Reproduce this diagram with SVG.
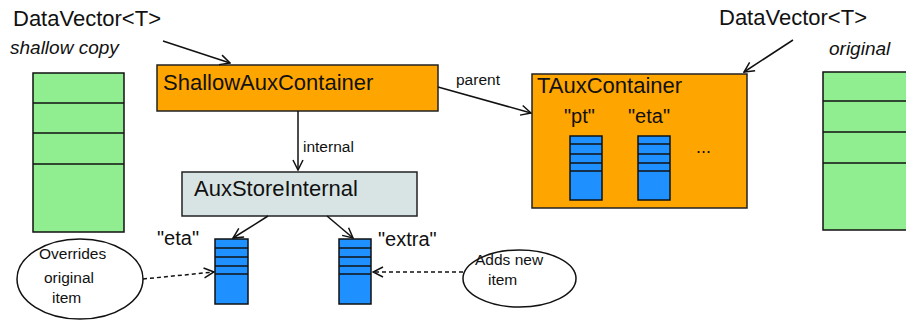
<svg xmlns="http://www.w3.org/2000/svg" width="906" height="320" viewBox="0 0 906 320">
<defs>
<style>
text{font-family:"Liberation Sans",Arial,sans-serif;fill:#111}
.big{font-size:22px}
.mid{font-size:20px}
.it{font-size:19px;font-style:italic}
.sm{font-size:15.5px}
.vec{fill:#90ee90;stroke:#111;stroke-width:1.5}
.blue{fill:#1e90ff;stroke:#111;stroke-width:1.5}
.div{stroke:#111;stroke-width:1.5}
.box{stroke:#222;stroke-width:1.5}
.conn{stroke:#111;stroke-width:1.5;fill:none}
.dash{stroke:#111;stroke-width:1.5;fill:none;stroke-dasharray:4,3}
</style>
<marker id="ah" markerWidth="12" markerHeight="12" refX="11" refY="6" orient="auto" markerUnits="userSpaceOnUse">
<path d="M1,1 L11,6 L1,11" fill="none" stroke="#111" stroke-width="1.5"/>
</marker>
</defs>
<rect width="906" height="320" fill="#fff"/>

<g id="dv-shallow">
<text class="big" x="13" y="26">DataVector&lt;T&gt;</text>
<text class="it" x="10" y="54">shallow copy</text>
<rect class="vec" x="33" y="73" width="91" height="159"/>
<line class="div" x1="33" y1="103" x2="124" y2="103"/>
<line class="div" x1="33" y1="133" x2="124" y2="133"/>
<line class="div" x1="33" y1="164" x2="124" y2="164"/>
</g>

<g id="dv-original">
<text class="big" x="719" y="25">DataVector&lt;T&gt;</text>
<text class="it" x="829" y="55">original</text>
<rect class="vec" x="823" y="72" width="90" height="158"/>
<line class="div" x1="823" y1="101" x2="906" y2="101"/>
<line class="div" x1="823" y1="132" x2="906" y2="132"/>
<line class="div" x1="823" y1="163" x2="906" y2="163"/>
</g>

<g id="shallow-aux">
<rect class="box" x="157" y="65" width="281" height="46" fill="#ffa500"/>
<text class="big" x="163" y="90">ShallowAuxContainer</text>
</g>

<g id="aux-store-internal">
<rect class="box" x="182" y="172" width="235" height="44" fill="#d8e4e4"/>
<text class="big" x="194" y="196">AuxStoreInternal</text>
</g>

<g id="taux">
<rect class="box" x="532" y="74" width="215" height="134" fill="#ffa500"/>
<text class="big" x="537" y="93">TAuxContainer</text>
<text class="mid" x="564" y="123">"pt"</text>
<text class="mid" x="628" y="123">"eta"</text>
<rect class="blue" x="570" y="136" width="32" height="64"/>
<line class="div" x1="570" y1="144" x2="602" y2="144"/>
<line class="div" x1="570" y1="154" x2="602" y2="154"/>
<line class="div" x1="570" y1="163" x2="602" y2="163"/>
<line class="div" x1="570" y1="171" x2="602" y2="171"/>
<rect class="blue" x="638" y="136" width="32" height="64"/>
<line class="div" x1="638" y1="144" x2="670" y2="144"/>
<line class="div" x1="638" y1="154" x2="670" y2="154"/>
<line class="div" x1="638" y1="163" x2="670" y2="163"/>
<line class="div" x1="638" y1="171" x2="670" y2="171"/>
<text x="696" y="153" style="font-size:18px">...</text>
</g>

<g id="eta-vec">
<text class="mid" x="157" y="245">"eta"</text>
<rect class="blue" x="215" y="239" width="33" height="65"/>
<line class="div" x1="215" y1="248" x2="248" y2="248"/>
<line class="div" x1="215" y1="257" x2="248" y2="257"/>
<line class="div" x1="215" y1="266" x2="248" y2="266"/>
<line class="div" x1="215" y1="274" x2="248" y2="274"/>
</g>

<g id="extra-vec">
<text class="mid" x="378" y="246">"extra"</text>
<rect class="blue" x="339" y="239" width="32" height="65"/>
<line class="div" x1="339" y1="248" x2="371" y2="248"/>
<line class="div" x1="339" y1="257" x2="371" y2="257"/>
<line class="div" x1="339" y1="266" x2="371" y2="266"/>
<line class="div" x1="339" y1="274" x2="371" y2="274"/>
</g>

<g id="note-overrides">
<ellipse cx="80" cy="279" rx="63" ry="40" fill="#fff" stroke="#111" stroke-width="1.5"/>
<text class="sm" x="39" y="259">Overrides</text>
<text class="sm" x="44" y="283">original</text>
<text class="sm" x="52" y="303">item</text>
</g>

<g id="note-adds">
<ellipse cx="519.5" cy="278.5" rx="56.5" ry="28.5" fill="#fff" stroke="#111" stroke-width="1.5"/>
<text class="sm" x="475" y="265">Adds new</text>
<text class="sm" x="488" y="285">item</text>
</g>

<g id="connectors">
<line class="conn" x1="163" y1="41" x2="230" y2="63" marker-end="url(#ah)"/>
<line class="conn" x1="793" y1="40" x2="744" y2="72" marker-end="url(#ah)"/>
<line class="conn" x1="298" y1="111" x2="298" y2="170" marker-end="url(#ah)"/>
<text class="sm" x="303" y="152">internal</text>
<line class="conn" x1="438" y1="87" x2="531" y2="113" marker-end="url(#ah)"/>
<text class="sm" x="456" y="85">parent</text>
<line class="conn" x1="268" y1="216" x2="233" y2="238" marker-end="url(#ah)"/>
<line class="conn" x1="327" y1="216" x2="353" y2="238" marker-end="url(#ah)"/>
<line class="dash" x1="143" y1="279" x2="214" y2="272" marker-end="url(#ah)"/>
<line class="dash" x1="463" y1="272" x2="373" y2="272" marker-end="url(#ah)"/>
</g>
</svg>
